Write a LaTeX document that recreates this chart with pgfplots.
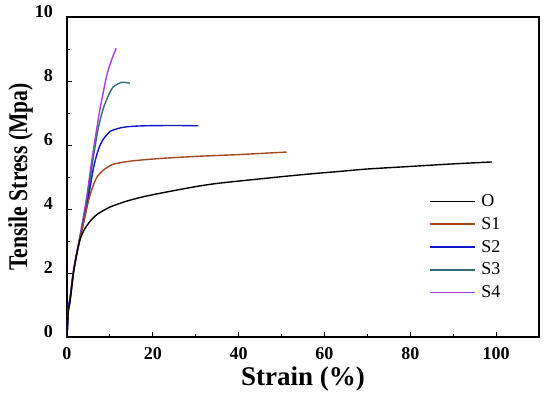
\documentclass[border=0pt]{standalone}
\usepackage{fontspec}
\setmainfont{Liberation Serif}
\usepackage{graphicx}
\usepackage{pgfplots}
\pgfplotsset{compat=1.18}
\definecolor{cO}{RGB}{0,0,0}
\definecolor{cS1}{RGB}{165,70,30}
\definecolor{cS2}{RGB}{20,20,205}
\definecolor{cS3}{RGB}{50,110,120}
\definecolor{cS4}{RGB}{170,60,230}
\begin{document}
\begin{tikzpicture}
\path[use as bounding box] (-67pt,-60pt) rectangle (483pt,337pt);
\begin{axis}[
  scale only axis, width=472pt, height=320pt,
  at={(0,0)}, anchor=south west,
  xmin=0, xmax=110, ymin=0, ymax=10,
  xtick={0,20,...,100}, ytick={0,2,...,10},
  minor x tick num=1, minor y tick num=1,
  tick pos=left, tick align=inside,
  major tick length=5pt, minor tick length=3.5pt,
  every tick/.style={black, line width=0.9pt},
  axis line style={line width=1.1pt},
  /pgf/number format/assume math mode=true,
  ticklabel style={font=\fontsize{18}{18}\selectfont\bfseries},
  xticklabel style={inner sep=0pt, yshift=-10pt},
  yticklabel style={inner sep=0pt, xshift=-14pt, yshift=5pt},
  xlabel={Strain (\%)},
  ylabel={\scalebox{0.8}[1]{Tensile Stress (Mpa)}},
  xlabel style={font=\fontsize{27}{27}\selectfont\bfseries, inner sep=0pt, at={(axis description cs:0.5,-0.091)}, anchor=north},
  ylabel style={font=\fontsize{27}{27}\selectfont\bfseries, inner sep=0pt, at={(axis description cs:-0.072,0.5)}, anchor=south},
  legend style={draw=none, fill=none, at={(axis description cs:0.766,0.451)}, anchor=north west,
    font=\fontsize{18}{18}\selectfont, row sep=5.3pt, inner sep=0pt,
    /tikz/every odd column/.append style={column sep=4pt}},
  legend cell align=left,
  legend image code/.code={\draw[#1] plot coordinates {(0pt,0pt) (22pt,0pt) (45pt,0pt)};},
  curve/.style={line width=1.4pt, smooth, tension=0.4},
]
\addplot[cS4, curve, forget plot] coordinates {(0,0) (0.3,0.9) (0.7,1.2) (1.5,2.1) (3,3.15) (4.5,4.3) (5.7,5.45) (6.95,6.52) (7.72,7.15) (9.29,8.19) (10.5,8.7) (11.46,9.02)};
\addplot[cS3, curve, forget plot] coordinates {(0,0) (0.3,0.9) (0.7,1.2) (1.5,2.05) (3,3.1) (4.5,4.1) (6,5.5) (7.3,6.53) (8.5,7.16) (9.7,7.56) (10.8,7.82) (12.8,7.96) (14.7,7.93)};
\addplot[cS2, curve, forget plot] coordinates {(0,0) (0.3,0.9) (0.7,1.2) (1.5,2.0) (2.2,2.55) (3,3.05) (4.6,4.07) (6.2,5.3) (7.3,5.85) (8.3,6.15) (10,6.42) (12,6.52) (14,6.57) (18,6.6) (25,6.61) (30.6,6.6)};
\addplot[cS1, curve, forget plot] coordinates {(0,0) (0.3,0.8) (0.7,1.1) (1.5,2.0) (2.2,2.55) (3,3.05) (4,3.65) (5,4.25) (6,4.7) (7,5.0) (8.5,5.22) (10.8,5.4) (15,5.5) (21.8,5.58) (31,5.65) (40,5.7) (51.2,5.78)};
\addplot[cO, curve, forget plot] coordinates {(0,0) (0.3,0.8) (0.7,1.1) (1.5,2.0) (2.2,2.55) (3,3.03) (4,3.35) (5.4,3.62) (7,3.83) (10,4.06) (14,4.25) (18,4.39) (22,4.5) (30,4.7) (35,4.8) (42,4.9) (50,5.01) (57,5.1) (64,5.18) (70,5.25) (80,5.33) (90,5.41) (99,5.47)};
\addlegendimage{cO, line width=1.7pt}
\addlegendentry{O}
\addlegendimage{cS1, line width=1.7pt}
\addlegendentry{S1}
\addlegendimage{cS2, line width=1.7pt}
\addlegendentry{S2}
\addlegendimage{cS3, line width=1.7pt}
\addlegendentry{S3}
\addlegendimage{cS4, line width=1.7pt}
\addlegendentry{S4}
\end{axis}
\end{tikzpicture}
\end{document}
